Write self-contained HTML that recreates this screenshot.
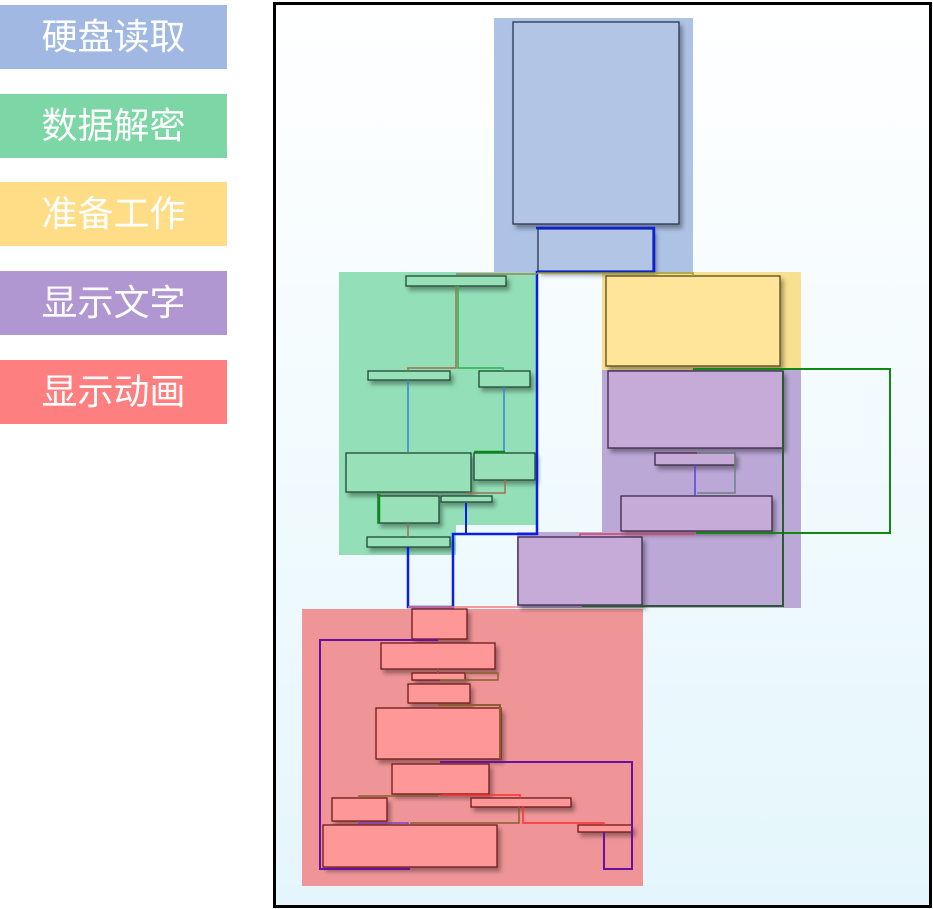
<!DOCTYPE html>
<html><head><meta charset="utf-8"><style>
html,body{margin:0;padding:0;background:#fff;width:933px;height:909px;overflow:hidden;position:relative}
.lg{position:absolute;left:0;width:227px;height:64px;color:#fff;font:36px "Liberation Sans","Noto Sans CJK SC",sans-serif;line-height:64px;text-align:center}
svg{position:absolute;left:0;top:0}
</style></head><body>
<div class="lg" style="top:5px;background:#a0b8e2">硬盘读取</div>
<div class="lg" style="top:94px;background:#7dd6a5">数据解密</div>
<div class="lg" style="top:182px;background:#fedd86">准备工作</div>
<div class="lg" style="top:271px;background:#b197d2">显示文字</div>
<div class="lg" style="top:360px;background:#fe7f7f">显示动画</div>
<svg width="933" height="909" xmlns="http://www.w3.org/2000/svg">
<defs>
<linearGradient id="bg" x1="0" y1="0" x2="0" y2="1"><stop offset="0" stop-color="#ffffff"/><stop offset="1" stop-color="#e4f6fc"/></linearGradient>
<filter id="sh" x="-10%" y="-10%" width="130%" height="140%"><feDropShadow dx="3" dy="4" stdDeviation="2" flood-color="#000" flood-opacity="0.35"/></filter>
</defs>
<rect x="274.5" y="3.5" width="656" height="903" fill="url(#bg)" stroke="#000" stroke-width="3"/>
<!-- groups -->
<rect x="494" y="18" width="199" height="254" fill="#adc2e4"/>
<path d="M339 272H536V525H456V555H339Z" fill="#93dfb7"/>
<rect x="602" y="272" width="199" height="98" fill="#f7e08f"/>
<path d="M602 370H801V608H517V532H602Z" fill="#bba8d7"/>
<rect x="302" y="609" width="341" height="277" fill="#ef9598"/>
<!-- nodes -->
<g filter="url(#sh)" stroke-width="1.3">
<g fill="#b3c5e5" stroke="#2a3550">
<rect x="513" y="22" width="166" height="202"/>
<rect x="538" y="229" width="115" height="42"/>
</g>
<g fill="#97e0b8" stroke="#1d4a32">
<rect x="406" y="276" width="100" height="10"/>
<rect x="368" y="371" width="82" height="9"/>
<rect x="479" y="371" width="51" height="16"/>
<rect x="346" y="453" width="125" height="39"/>
<rect x="474" y="453" width="61" height="27"/>
<rect x="378" y="496" width="61" height="27"/>
<rect x="441" y="496" width="51" height="6"/>
<rect x="367" y="537" width="83" height="10"/>
</g>
<rect x="606" y="276" width="174" height="90" fill="#fee59a" stroke="#5a4a18"/>
<g fill="#c6aad7" stroke="#3a2848">
<rect x="608" y="371" width="175" height="77"/>
<rect x="655" y="453" width="80" height="12"/>
<rect x="621" y="496" width="151" height="35"/>
<rect x="518" y="537" width="124" height="68"/>
</g>
<g fill="#fe9898" stroke="#6e1818">
<rect x="412" y="609" width="55" height="30"/>
<rect x="381" y="643" width="114" height="26"/>
<rect x="412" y="673" width="53" height="7"/>
<rect x="408" y="684" width="62" height="19"/>
<rect x="376" y="708" width="125" height="51"/>
<rect x="392" y="764" width="97" height="30"/>
<rect x="332" y="798" width="55" height="23"/>
<rect x="471" y="798" width="100" height="9"/>
<rect x="323" y="825" width="174" height="42"/>
<rect x="578" y="825" width="54" height="7"/>
</g>
</g>
<!-- connectors -->
<g fill="none">
<path d="M536 228H654V272H537V534H453V607H408V547" stroke="#0a1fe6" stroke-width="2.5"/>
<path d="M466 503V534" stroke="#0a1fe6" stroke-width="2"/>
<path d="M377 495H379V523M474 452H505" stroke="#0a8a1a" stroke-width="2.5"/>
<path d="M456 274H537" stroke="#a08060" stroke-width="1.5"/>
<path d="M537 273H693V276" stroke="#9a9a30" stroke-width="1.5"/>
<path d="M456 286V368H408V371" stroke="#a07050" stroke-width="1.5"/>
<path d="M458 286V368H503V371" stroke="#30b050" stroke-width="1.5"/>
<path d="M408 380V453M504 387V451" stroke="#4080d0" stroke-width="1.5"/>
<path d="M505 480V493H466" stroke="#a07050" stroke-width="1.5"/>
<path d="M408 523V537" stroke="#a07050" stroke-width="1.5"/>
<path d="M693 369H890V533H696" stroke="#118811" stroke-width="2"/>
<path d="M783 371V606H582" stroke="#2a5a30" stroke-width="2"/>
<path d="M695 465V496" stroke="#5a40e0" stroke-width="1.5"/>
<path d="M697 453H735V493H697" stroke="#708080" stroke-width="1.5"/>
<path d="M580 536V534H695" stroke="#e04060" stroke-width="1.5"/>
<path d="M408 607H517" stroke="#f08080" stroke-width="1.5"/>
<path d="M438 640H320V869H410" stroke="#6a10a0" stroke-width="2"/>
<path d="M438 669V673M465 673H498V680H440" stroke="#8a6030" stroke-width="1.5"/>
<path d="M438 705H500V759" stroke="#8a6030" stroke-width="2"/>
<path d="M440 762H632V869H604V832" stroke="#6a10a0" stroke-width="2"/>
<path d="M359 798V796H438" stroke="#8a6030" stroke-width="1.5"/>
<path d="M441 795H520V798" stroke="#ff3030" stroke-width="1.5"/>
<path d="M519 807V823H411V825" stroke="#8a6030" stroke-width="1.5"/>
<path d="M523 807V823H604V825" stroke="#ff3030" stroke-width="1.5"/>
<path d="M359 821V823H408V825" stroke="#8040c0" stroke-width="1.5"/>
</g>
</svg>
</body></html>
